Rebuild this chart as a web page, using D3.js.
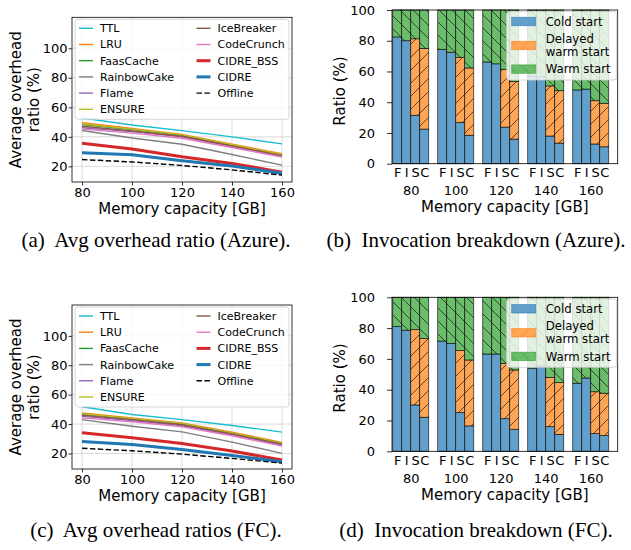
<!DOCTYPE html>
<html>
<head>
<meta charset="utf-8">
<script src="https://cdn.jsdelivr.net/npm/d3@7"></script>
<style>
  body { margin: 0; background: #fff; }
  svg text { font-family: "DejaVu Sans", sans-serif; fill: #000; }
  svg text.cap { font-family: "Liberation Serif", serif; }
</style>
</head>
<body>
<svg id="fig" width="631" height="550"></svg>
<script>
'use strict';

// ---- data ----
const capacities = [80, 100, 120, 140, 160];
const policies = ['TTL', 'LRU', 'FaasCache', 'RainbowCake', 'Flame', 'ENSURE',
                  'IceBreaker', 'CodeCrunch', 'CIDRE_BSS', 'CIDRE', 'Offline'];
const policyColors = ['#17becf', '#ff7f0e', '#2ca02c', '#7f7f7f', '#9467bd', '#bcbd22',
                      '#8c564b', '#e377c2', '#d62728', '#1f77b4', '#000000'];
const overheadTicks = [20, 40, 60, 80, 100];

// average overhead ratio (%), one row per policy, columns = capacities
const azureOverhead = [
  [52.8, 48.0, 44.2, 40.0, 35.2],
  [49.5, 45.7, 41.6, 35.0, 28.6],
  [48.4, 45.0, 41.0, 34.3, 27.8],
  [44.3, 39.2, 35.0, 28.0, 20.8],
  [46.2, 43.5, 40.0, 33.5, 27.0],
  [48.8, 45.2, 41.3, 34.6, 28.0],
  [47.2, 44.0, 40.4, 33.8, 27.3],
  [45.2, 42.5, 39.0, 32.8, 26.3],
  [35.6, 31.8, 26.5, 22.0, 16.1],
  [29.3, 27.8, 23.8, 20.2, 15.3],
  [24.6, 23.0, 20.6, 17.6, 14.1]
];
const fcOverhead = [
  [51.8, 46.5, 43.0, 39.0, 34.5],
  [47.6, 44.2, 40.8, 34.5, 27.5],
  [46.8, 43.6, 40.2, 33.8, 26.8],
  [43.0, 38.5, 34.7, 27.7, 20.0],
  [45.2, 42.4, 38.8, 32.6, 25.7],
  [47.0, 43.8, 40.4, 34.0, 27.0],
  [46.0, 43.0, 39.5, 33.2, 26.3],
  [44.2, 41.6, 38.1, 32.0, 25.0],
  [34.0, 30.6, 26.8, 21.6, 15.5],
  [28.1, 26.1, 22.7, 18.6, 14.4],
  [23.5, 21.8, 19.5, 16.6, 13.4]
];

// invocation breakdown (%), rows = capacities, columns = F, I, S, C
const barLabels = ['F', 'I', 'S', 'C'];
const startTypes = ['Cold start', 'Delayed warm start', 'Warm start'];
const ratioTicks = [0, 20, 40, 60, 80, 100];

const azureCold = [
  [82.5, 80.0, 31.5, 22.5],
  [74.4, 72.5, 26.8, 18.5],
  [66.2, 65.0, 23.8, 16.0],
  [57.0, 56.5, 18.0, 13.4],
  [48.0, 48.5, 12.8, 11.0]
];
const azureDelayed = [
  [0, 0, 49.8, 52.5],
  [0, 0, 42.4, 43.8],
  [0, 0, 37.6, 37.5],
  [0, 0, 32.6, 34.1],
  [0, 0, 28.2, 28.3]
];
const azureWarm = [
  [17.5, 20.0, 18.7, 25.0],
  [25.6, 27.5, 30.8, 37.7],
  [33.8, 35.0, 38.6, 46.5],
  [43.0, 43.5, 49.4, 52.5],
  [52.0, 51.5, 59.0, 60.7]
];
const fcCold = [
  [81.0, 78.6, 30.1, 22.1],
  [71.6, 70.1, 25.1, 16.5],
  [63.2, 63.2, 21.2, 14.3],
  [54.0, 55.4, 16.0, 11.0],
  [44.2, 47.6, 11.5, 10.2]
];
const fcDelayed = [
  [0, 0, 48.9, 51.1],
  [0, 0, 40.3, 42.8],
  [0, 0, 35.9, 38.5],
  [0, 0, 32.0, 33.6],
  [0, 0, 27.2, 27.5]
];
const fcWarm = [
  [19.0, 21.4, 21.0, 26.8],
  [28.4, 29.9, 34.6, 40.7],
  [36.8, 36.8, 42.9, 47.2],
  [46.0, 44.6, 52.0, 55.4],
  [55.8, 52.4, 61.3, 62.3]
];

// ---- drawing ----
const svg = d3.select('#fig');
const defs = svg.append('defs');

// hatch patterns, tiled in page space so lines run across neighbouring bars
const hatch = (id, dir, bg, line, lineOpacity) => {
  const s = 13;
  const p = defs.append('pattern').attr('id', id)
    .attr('patternUnits', 'userSpaceOnUse').attr('width', s).attr('height', s);
  p.append('rect').attr('width', s).attr('height', s).attr('fill', bg);
  p.append('path')
    .attr('d', dir === '/'
      ? `M0,${s} L${s},0 M-2,2 L2,-2 M${s - 2},${s + 2} L${s + 2},${s - 2}`
      : `M0,0 L${s},${s} M-2,${s - 2} L2,${s + 2} M${s - 2},-2 L${s + 2},2`)
    .attr('stroke', line).attr('stroke-opacity', lineOpacity).attr('stroke-width', 0.8);
};
// tab colours at alpha 0.7 on white
const barFills = ['rgb(98,160,203)', 'rgb(255,165,86)', 'rgb(107,188,107)'];
const barEdges = ['#1f77b4', '#ff7f0e', '#2ca02c'];
hatch('hOrange', '/', barFills[1], '#000', 0.75);
hatch('hGreen', '\\', barFills[2], '#000', 0.75);
hatch('hOrangeL', '/', barFills[1], '#ff7f0e', 0.9);
hatch('hGreenL', '\\', barFills[2], '#2ca02c', 0.9);
const barPaint = [barFills[0], 'url(#hOrange)', 'url(#hGreen)'];
const legendPaint = [barFills[0], 'url(#hOrangeL)', 'url(#hGreenL)'];

const styleAxis = (sel, size) => {
  sel.select('.domain').remove();
  sel.selectAll('.tick line').attr('stroke', '#000').attr('stroke-width', 0.8);
  sel.selectAll('.tick text').style('font-size', size + 'px').attr('fill', '#000');
};

const drawOverhead = (box, rows, ylabCenter) => {
  const g = svg.append('g');
  const x = d3.scaleLinear().domain([76, 164]).range([box.left, box.right]);
  const y = d3.scaleLinear().domain([9.4, 121]).range([box.bottom, box.top]);

  // grid
  g.append('g').selectAll('line').data(capacities).join('line')
    .attr('x1', d => x(d)).attr('x2', d => x(d))
    .attr('y1', box.top).attr('y2', box.bottom)
    .attr('stroke', '#b0b0b0').attr('stroke-opacity', 0.6).attr('stroke-width', 0.8);
  g.append('g').selectAll('line').data(overheadTicks).join('line')
    .attr('y1', d => y(d)).attr('y2', d => y(d))
    .attr('x1', box.left).attr('x2', box.right)
    .attr('stroke', '#b0b0b0').attr('stroke-opacity', 0.6).attr('stroke-width', 0.8);

  const line = d3.line().x((d, i) => x(capacities[i])).y(d => y(d));
  g.append('g').selectAll('path').data(rows).join('path')
    .attr('d', line)
    .attr('fill', 'none')
    .attr('stroke', (d, i) => policyColors[i])
    .attr('stroke-width', (d, i) => (i === 8 || i === 9) ? 3 : 1.4)
    .attr('stroke-dasharray', (d, i) => i === 10 ? '5.5,2.4' : null);

  g.append('rect')
    .attr('x', box.left).attr('y', box.top)
    .attr('width', box.right - box.left).attr('height', box.bottom - box.top)
    .attr('fill', 'none').attr('stroke', '#000').attr('stroke-width', 0.8);

  g.append('g').attr('transform', `translate(0,${box.bottom})`)
    .call(d3.axisBottom(x).tickValues(capacities).tickSize(3.5).tickPadding(2))
    .call(s => styleAxis(s, 13));
  g.append('g').attr('transform', `translate(${box.left},0)`)
    .call(d3.axisLeft(y).tickValues(overheadTicks).tickSize(3.5).tickPadding(1))
    .call(s => styleAxis(s, 13));

  g.append('text').attr('x', (box.left + box.right) / 2).attr('y', box.bottom + 31.5)
    .attr('text-anchor', 'middle').style('font-size', '15px').text('Memory capacity [GB]');
  const yl = g.append('text').attr('transform', `translate(0,${ylabCenter}) rotate(-90)`)
    .attr('text-anchor', 'middle').style('font-size', '15px');
  yl.append('tspan').attr('x', 0).attr('y', 20.5).text('Average overhead');
  yl.append('tspan').attr('x', 0).attr('y', 38.5).text('ratio (%)');

  // legend, two columns
  const lg = g.append('g').attr('transform', `translate(${box.left + 3},${box.top + 2})`);
  lg.append('rect').attr('width', 214).attr('height', 100).attr('rx', 3)
    .attr('fill', '#fff').attr('fill-opacity', 0.8).attr('stroke', '#cccccc').attr('stroke-width', 0.8);
  const item = lg.selectAll('g.item').data(policies).join('g').attr('class', 'item')
    .attr('transform', (d, i) => `translate(${i < 6 ? 4 : 121.5},${9 + (i % 6) * 16.2})`);
  item.append('line').attr('x1', 0).attr('x2', 14).attr('y1', 0).attr('y2', 0)
    .attr('stroke', (d, i) => policyColors[i])
    .attr('stroke-width', (d, i) => (i === 8 || i === 9) ? 3 : 1.4)
    .attr('stroke-dasharray', (d, i) => i === 10 ? '5.5,2.4' : null);
  item.append('text').attr('x', 21).attr('dy', '0.36em').style('font-size', '11px').text(d => d);
};

const drawBreakdown = (box, cold, delayed, warm, ylabCenter) => {
  const g = svg.append('g');
  const x = d3.scaleLinear().domain([0, 25]).range([box.left + 0.7, box.right]);
  const y = d3.scaleLinear().domain([0, 100]).range([box.bottom, box.top]);

  const cells = [];
  capacities.forEach((c, i) => barLabels.forEach((b, j) => cells.push({
    slot: i * 5 + j, label: b,
    cold: cold[i][j], delayed: delayed[i][j], warm: warm[i][j]
  })));
  const series = d3.stack().keys(['cold', 'delayed', 'warm'])(cells);

  series.forEach((s, k) => {
    g.append('g').selectAll('rect').data(s.filter(d => d[1] - d[0] > 0)).join('rect')
      .attr('x', d => x(d.data.slot))
      .attr('width', d => x(d.data.slot + 1) - x(d.data.slot))
      .attr('y', d => y(d[1]))
      .attr('height', d => y(d[0]) - y(d[1]))
      .attr('fill', barPaint[k])
      .attr('stroke', '#000').attr('stroke-opacity', 0.75).attr('stroke-width', 0.8);
  });

  g.append('rect')
    .attr('x', box.left).attr('y', box.top)
    .attr('width', box.right - box.left).attr('height', box.bottom - box.top)
    .attr('fill', 'none').attr('stroke', '#000').attr('stroke-width', 0.8);

  // bar letters, then capacity under each group
  g.append('g').attr('transform', `translate(0,${box.bottom})`)
    .call(d3.axisBottom(x).tickValues(cells.map(d => d.slot + 0.5))
      .tickFormat((d, i) => cells[i].label).tickSize(0).tickPadding(4))
    .call(s => styleAxis(s, 13));
  g.append('g').attr('transform', `translate(0,${box.bottom + 18})`)
    .call(d3.axisBottom(x).tickValues(capacities.map((c, i) => i * 5 + 2))
      .tickFormat((d, i) => capacities[i]).tickSize(0).tickPadding(4))
    .call(s => styleAxis(s, 13));
  g.append('g').attr('transform', `translate(${box.left},0)`)
    .call(d3.axisLeft(y).tickValues(ratioTicks).tickSize(5).tickPadding(12))
    .call(s => styleAxis(s, 13));

  g.append('text').attr('x', (box.left + box.right) / 2).attr('y', box.bottom + 48.5)
    .attr('text-anchor', 'middle').style('font-size', '15px').text('Memory capacity [GB]');
  g.append('text').attr('transform', `translate(${box.left - 52},${ylabCenter}) rotate(-90)`)
    .attr('text-anchor', 'middle').attr('dy', '0.36em').style('font-size', '15px').text('Ratio (%)');

  // legend
  const lg = g.append('g').attr('transform', `translate(${box.right - 111},${box.top + 1.5})`);
  lg.append('rect').attr('width', 110).attr('height', 68.5).attr('rx', 3)
    .attr('fill', '#fff').attr('fill-opacity', 0.8).attr('stroke', '#cccccc').attr('stroke-width', 0.8);
  const rowsY = [10, 34, 57.6];
  startTypes.forEach((t, k) => {
    lg.append('rect').attr('x', 5).attr('y', rowsY[k] - 4.2).attr('width', 24).attr('height', 8.4)
      .attr('fill', legendPaint[k]).attr('stroke', barEdges[k]).attr('stroke-opacity', 0.7).attr('stroke-width', 0.8);
  });
  const txt = (s, yy) => lg.append('text').attr('x', 39).attr('y', yy).attr('dy', '0.36em')
    .style('font-size', '11.7px').text(s);
  txt('Cold start', rowsY[0]);
  txt('Delayed', 27.3);
  txt('warm start', 40.3);
  txt('Warm start', rowsY[2]);
};

drawOverhead({ left: 72, right: 292, top: 17.3, bottom: 182 }, azureOverhead, 99.7);
drawOverhead({ left: 72, right: 292, top: 305, bottom: 469 }, fcOverhead, 387);
drawBreakdown({ left: 392, right: 617.7, top: 10, bottom: 163.7 }, azureCold, azureDelayed, azureWarm, 91);
drawBreakdown({ left: 392, right: 617.7, top: 297.3, bottom: 451.3 }, fcCold, fcDelayed, fcWarm, 378);

// captions
const captions = [
  ['(a)  Avg overhead ratio (Azure).', 156, 240],
  ['(b)  Invocation breakdown (Azure).', 476, 240],
  ['(c)  Avg overhead ratios (FC).', 156, 530],
  ['(d)  Invocation breakdown (FC).', 476, 530]
];
svg.append('g').selectAll('text').data(captions).join('text')
  .attr('class', 'cap')
  .attr('x', d => d[1]).attr('y', d => d[2]).attr('dy', '0.35em')
  .attr('text-anchor', 'middle')
  .style('font-size', '21px')
  .style('white-space', 'pre')
  .text(d => d[0]);
</script>
</body>
</html>
